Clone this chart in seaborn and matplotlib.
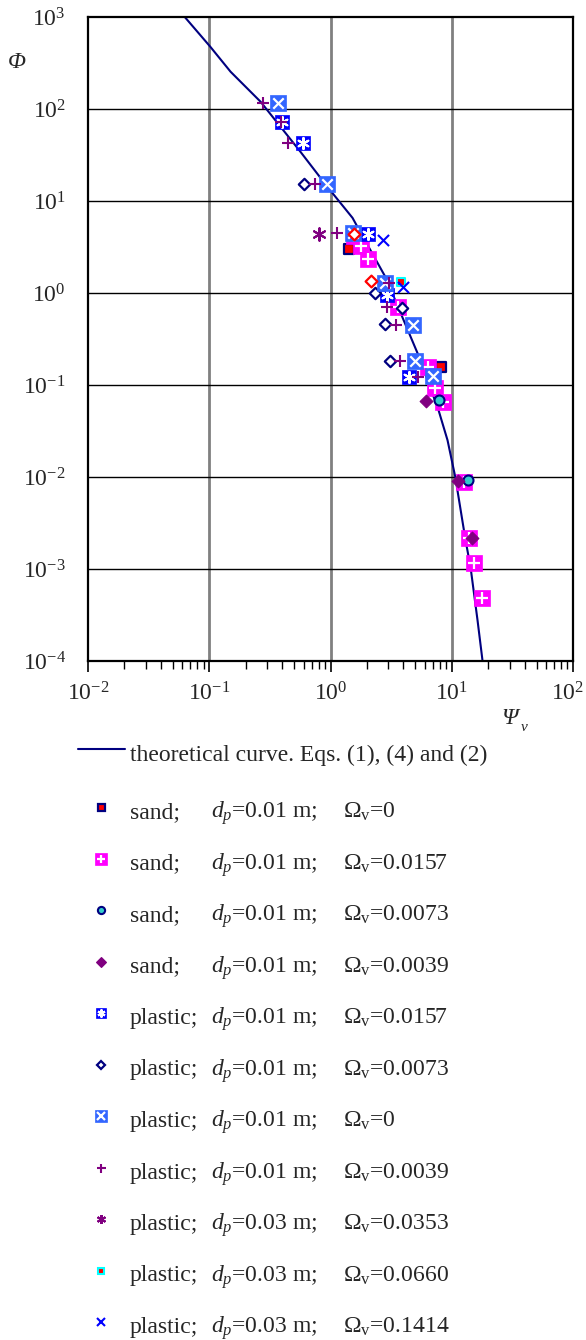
import numpy as np
import pandas as pd
import matplotlib
matplotlib.use("Agg")
import matplotlib.pyplot as plt
import matplotlib.transforms as mtrans
import seaborn as sns
from matplotlib.lines import Line2D
from matplotlib.ticker import LogLocator, LogFormatterMathtext, NullFormatter, FixedLocator

# ---------------- data ----------------
curve_psi = [0.058, 0.102, 0.150, 0.265, 0.566, 0.945, 1.52, 1.67, 2.84,
             5.22, 7.78, 9.23, 10.7, 13.0, 14.3, 16.3, 17.9]
curve_phi = [1130, 475, 254, 120, 34.2, 14.2, 6.55, 5.22, 1.49,
             0.222, 0.0533, 0.0251, 0.00995, 0.00205, 0.00104, 0.00028, 0.000103]

s1_psi = [1.41, 8.08]
s1_phi = [3.01, 0.157]
s2_psi = [1.55, 1.80, 2.02, 3.57, 6.31, 7.34, 8.39, 12.5, 14.0, 15.4, 17.9]
s2_phi = [4.17, 3.24, 2.35, 0.704, 0.157, 0.0925, 0.0652, 0.00878, 0.00216, 0.00115, 0.00048]
s3_psi = [7.92, 13.5]
s3_phi = [0.0685, 0.00923]
s4_psi = [6.08, 11.2, 14.6]
s4_phi = [0.0668, 0.0090, 0.00216]
s5_psi = [0.40, 0.588, 2.02, 2.95, 4.40]
s5_phi = [72.6, 42.9, 4.39, 0.951, 0.122]
s6_psi = [0.599, 2.35, 3.92, 2.84, 3.12]
s6_phi = [15.4, 1.0, 0.687, 0.46, 0.182]
s7_psi = [0.372, 0.927, 1.52, 2.79, 4.75, 4.93, 7.07]
s7_phi = [117, 15.4, 4.50, 1.28, 0.449, 0.182, 0.125]
s8_psi = [0.280, 0.394, 0.442, 0.738, 1.14, 3.01, 2.90, 3.50, 3.71, 5.22]
s8_phi = [117, 72.6, 42.9, 15.4, 4.50, 1.28, 0.704, 0.449, 0.182, 0.122]
s9_psi = [0.811]
s9_phi = [4.39]
s10_psi = [3.78]
s10_phi = [1.32]
s11_psi = [2.69, 4.00]
s11_phi = [3.77, 1.16]
s12_psi = [1.55, 2.14]
s12_phi = [4.39, 1.35]

materials = ["sand;", "sand;", "sand;", "sand;", "plastic;", "plastic;", "plastic;",
             "plastic;", "plastic;", "plastic;", "plastic;"]
diameters = ["0.01", "0.01", "0.01", "0.01", "0.01", "0.01", "0.01", "0.01",
             "0.03", "0.03", "0.03"]
omegas = ["0", "0.0157", "0.0073", "0.0039", "0.0157", "0.0073", "0",
          "0.0039", "0.0353", "0.0660", "0.1414"]
curve_label = "theoretical curve. Eqs. (1), (4) and (2)"
x_ticks = [1e-2, 1e-1, 1e0, 1e1, 1e2]
y_ticks = [1e-4, 1e-3, 1e-2, 1e-1, 1e0, 1e1, 1e2, 1e3]

# ---------------- style ----------------
sns.set_theme(style="white")
plt.rcParams["font.family"] = ["Liberation Serif", "DejaVu Serif"]
plt.rcParams["mathtext.fontset"] = "custom"
plt.rcParams["mathtext.rm"] = "Liberation Serif"
plt.rcParams["mathtext.it"] = "Liberation Serif:italic"
plt.rcParams["mathtext.bf"] = "Liberation Serif:bold"

NAVY = "#000080"
MAG = "#FF00FF"
PURP = "#800080"
BLUE = "#0000FF"
LBLUE = "#3366FF"
CYAN = "#33CCCC"
RED = "#FF0000"
AST = (6, 2, 0)

# each style: list of layers (marker, size_pt, face, edge, lw)
styles = [
    [("s", 7.0, RED, NAVY, 1.6)],
    [("s", 11.5, MAG, MAG, 0.5), ("+", 8.0, "white", "white", 1.6)],
    [("o", 7.2, CYAN, NAVY, 1.5)],
    [("D", 6.5, PURP, PURP, 0.8)],
    [("s", 10.5, BLUE, BLUE, 0.5), (AST, 8.0, "white", "white", 1.5)],
    [("D", 5.8, "white", NAVY, 1.6)],
    [("s", 11.5, LBLUE, LBLUE, 0.5), ("x", 7.5, "white", "white", 1.6)],
    [("+", 9.0, PURP, PURP, 1.5)],
    [(AST, 9.0, PURP, PURP, 1.5)],
    [("s", 6.0, RED, "#00FFFF", 1.5)],
    [("x", 8.0, BLUE, BLUE, 1.5)],
    [("D", 6.0, "white", RED, 1.6)],
]

series = [(s1_psi, s1_phi), (s2_psi, s2_phi), (s3_psi, s3_phi), (s4_psi, s4_phi),
          (s5_psi, s5_phi), (s6_psi, s6_phi), (s7_psi, s7_phi), (s8_psi, s8_phi),
          (s9_psi, s9_phi), (s10_psi, s10_phi), (s11_psi, s11_phi), (s12_psi, s12_phi)]

W, H = 586, 1340
fig = plt.figure(figsize=(W / 100, H / 100), dpi=100)
fig.patch.set_facecolor("white")

def fx(px):
    return px / W

def fy(py):
    return 1 - py / H

ax = fig.add_axes([fx(88), fy(661), fx(573) - fx(88), fy(17) - fy(661)])
ax.set_facecolor("white")
ax.set_xscale("log")
ax.set_yscale("log")
ax.set_xlim(1e-2, 1e2)
ax.set_ylim(1e-4, 1e3)

# grid
for v in x_ticks[1:-1]:
    ax.axvline(v, color="#808080", lw=2.0, zorder=0.5)
for v in y_ticks[1:-1]:
    ax.axhline(v, color="black", lw=1.0, zorder=0.5)

# curve
curve_df = pd.DataFrame({"psi": curve_psi, "phi": curve_phi})
sns.lineplot(data=curve_df, x="psi", y="phi", sort=False, estimator=None,
             color=NAVY, lw=1.5, ax=ax, zorder=2)

# points
z = 3
for (px_, py_), layers in zip(series, styles):
    df = pd.DataFrame({"psi": px_, "phi": py_})
    for (m, ms, fc, ec, lw) in layers:
        filled = m in ("s", "o", "D")
        if filled:
            sns.scatterplot(data=df, x="psi", y="phi", marker=m, s=ms ** 2,
                            color=fc, edgecolor=ec, linewidth=lw, ax=ax, zorder=z)
        else:
            sns.scatterplot(data=df, x="psi", y="phi", marker=m, s=ms ** 2,
                            color=ec, linewidth=lw, ax=ax, zorder=z)
        z += 0.01

ax.set_xlabel("")
ax.set_ylabel("")
for sp in ax.spines.values():
    sp.set_color("black")
    sp.set_linewidth(1.6)
    sp.set_visible(True)

ax.xaxis.set_major_locator(FixedLocator(x_ticks))
ax.xaxis.set_minor_locator(LogLocator(base=10, subs=np.arange(2, 10), numticks=20))
ax.xaxis.set_major_formatter(LogFormatterMathtext())
ax.xaxis.set_minor_formatter(NullFormatter())
ax.yaxis.set_major_locator(FixedLocator(y_ticks))
ax.yaxis.set_minor_locator(FixedLocator([]))
ax.yaxis.set_major_formatter(LogFormatterMathtext())
ax.yaxis.set_minor_formatter(NullFormatter())
ax.tick_params(axis="x", which="major", direction="out", length=8, width=1.2,
               color="black", labelsize=17, pad=7, bottom=True)
ax.tick_params(axis="x", which="minor", direction="out", length=6, width=1.0,
               color="black", bottom=True)
ax.tick_params(axis="y", which="both", length=0, labelsize=17, pad=16, left=True)
ax.grid(False)

# nudge the right-most x label inside the canvas
fig.canvas.draw()
shift = mtrans.ScaledTranslation(-4 / 72, 0, fig.dpi_scale_trans)
for tick in ax.xaxis.get_major_ticks():
    if np.isclose(tick.get_loc(), x_ticks[-1]):
        tick.label1.set_transform(tick.label1.get_transform() + shift)

# axis titles
fig.text(fx(17), fy(62), "Φ", fontsize=17, fontstyle="italic", ha="center", va="center")
fig.text(fx(510), fy(718), "Ψ", fontsize=17, fontstyle="italic", ha="center", va="center")
fig.text(fx(521), fy(728), "v", fontsize=11, fontstyle="italic", ha="left", va="center")

# ---------------- legend (manual) ----------------
LFS = 17
ty = 755
fig.add_artist(Line2D([fx(78), fx(125)], [fy(ty - 6), fy(ty - 6)], color=NAVY, lw=1.5))
fig.text(fx(130), fy(ty), curve_label, fontsize=LFS, ha="left", va="center")

for i in range(len(materials)):
    ry = 812 + 51.5 * i
    for (m, ms, fc, ec, lw) in styles[i]:
        kw = dict(marker=m, markersize=ms * 0.72, markerfacecolor=fc,
                  markeredgecolor=ec, markeredgewidth=lw, linestyle="none")
        fig.add_artist(Line2D([fx(101)], [fy(ry - 5)], **kw))
    fig.text(fx(130), fy(ry + 6), materials[i], fontsize=LFS, ha="left", va="baseline")
    fig.text(fx(211), fy(ry + 6), r"$d_p$=" + diameters[i] + " m;", fontsize=LFS,
             ha="left", va="baseline")
    fig.text(fx(343), fy(ry + 6), r"$\Omega_\mathrm{v}$=" + omegas[i], fontsize=LFS,
             ha="left", va="baseline")

fig.savefig("out.png", dpi=100, facecolor="white")
